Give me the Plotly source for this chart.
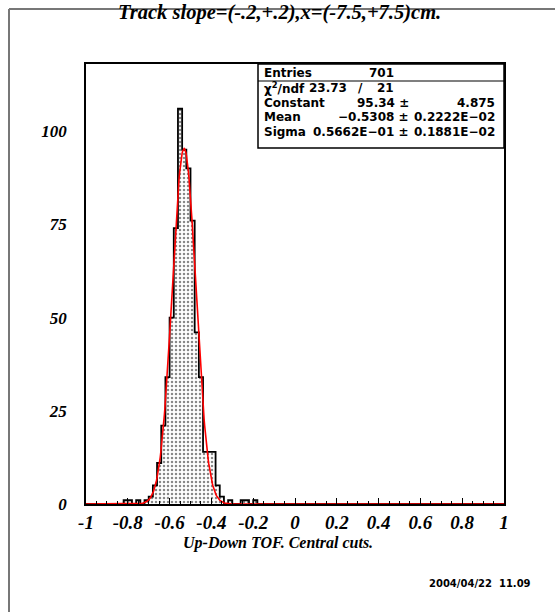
import numpy as np
import plotly.graph_objects as go

# ---------------- data ----------------
bin_lo = -1.0
bin_w = 0.02
n_bins = 100
# nonzero bin contents: bin index -> count
counts_nonzero = {
    9: 1, 10: 1, 12: 1, 14: 1, 15: 2, 16: 5, 17: 11, 18: 21, 19: 34, 20: 50,
    21: 74, 22: 106, 23: 95, 24: 90, 25: 76, 26: 46, 27: 34, 28: 14, 29: 14,
    30: 14, 31: 5, 32: 2, 34: 1, 37: 1, 38: 1, 40: 1,
}
fit_const = 95.34
fit_mean = -0.5308
fit_sigma = 0.05662

x_tick_vals = [-1, -0.8, -0.6, -0.4, -0.2, 0, 0.2, 0.4, 0.6, 0.8, 1]
x_tick_text = ["-1", "-0.8", "-0.6", "-0.4", "-0.2", "0", "0.2", "0.4", "0.6", "0.8", "1"]
y_tick_vals = [0, 25, 50, 75, 100]

stat_labels = ["Entries", "χ<sup>2</sup>/ndf", "Constant", "Mean", "Sigma"]
entries_text = "701"
chi2_text, ndf_text = "23.73", "21"
param_vals = ["95.34 ±", "−0.5308 ±", "0.5662E−01 ±"]
param_errs = ["4.875", "0.2222E−02", "0.1881E−02"]

title_text = "Track slope=(-.2,+.2),x=(-7.5,+7.5)cm."
xtitle_text = "Up-Down TOF. Central cuts."
date_text = "2004/04/22  11.09"

# ---------------- derived ----------------
edges = bin_lo + bin_w * np.arange(n_bins + 1)
centers = edges[:-1] + bin_w / 2
counts = np.zeros(n_bins)
for k, v in counts_nonzero.items():
    counts[k] = v

xf = np.linspace(-1, 1, 801)
yf = fit_const * np.exp(-0.5 * ((xf - fit_mean) / fit_sigma) ** 2)

# layout geometry (pixels)
W, H = 555, 612
L, R, T, B = 86, 504, 64, 504


def px(x):
    return (x - L) / (R - L)


def py(y):
    return (B - y) / (B - T)


serif = "Liberation Serif"
sans = "DejaVu Sans"

fig = go.Figure()
fig.add_trace(go.Bar(
    x=centers, y=counts, width=bin_w,
    marker=dict(color="white", line=dict(width=0),
                pattern=dict(shape=".", size=4, solidity=0.3, fgcolor="#111", bgcolor="white")),
    showlegend=False, hoverinfo="skip",
))
fig.add_trace(go.Scatter(
    x=edges, y=np.append(counts, counts[-1]), mode="lines", line_shape="hv",
    line=dict(color="black", width=1.8), showlegend=False, hoverinfo="skip",
))
fig.add_trace(go.Scatter(
    x=xf, y=yf, mode="lines", line=dict(color="#ff0000", width=1.6),
    showlegend=False, hoverinfo="skip",
))

BX0, BX1, BY0, BY1 = 258, 504, 64, 148
shapes = [
    # outer canvas frame (gray)
    dict(type="line", xref="paper", yref="paper", x0=px(9), x1=px(560), y0=py(9), y1=py(9),
         line=dict(color="#777", width=2)),
    dict(type="line", xref="paper", yref="paper", x0=px(9), x1=px(9), y0=py(9), y1=py(620),
         line=dict(color="#777", width=2)),
    # stats box
    dict(type="rect", xref="paper", yref="paper", x0=px(BX0), x1=px(BX1), y0=py(BY1), y1=py(BY0),
         line=dict(color="black", width=1.5), fillcolor="white", layer="above"),
    dict(type="line", xref="paper", yref="paper", x0=px(BX0), x1=px(BX1), y0=py(81), y1=py(81),
         line=dict(color="black", width=1.2), layer="above"),
]


def ann(text, x, y, xanchor, font):
    return dict(text=text, x=px(x), y=py(y), xref="paper", yref="paper", showarrow=False,
                xanchor=xanchor, yanchor="middle", font=font)


annotations = [
    ann(title_text, 279, 13, "center",
        dict(family=serif, size=20.5, color="black", weight="bold", style="italic")),
    ann(xtitle_text, 278, 543, "center",
        dict(family=serif, size=16, color="black", weight="bold", style="italic")),
    ann(date_text, 533, 583, "right", dict(family=sans, size=10, color="black", weight="bold")),
]

row_y = [73, 88, 103, 117, 132]
stat_font = dict(family=sans, size=12, color="black", weight="bold")
for lab, yy in zip(stat_labels, row_y):
    annotations.append(ann(lab, 262, yy, "left", stat_font))
annotations.append(ann(entries_text, 396, row_y[0], "right", stat_font))
annotations.append(ann(chi2_text, 307, row_y[1], "left", stat_font))
annotations.append(ann("/", 360, row_y[1], "center", stat_font))
annotations.append(ann(ndf_text, 396, row_y[1], "right", stat_font))
for v, e, yy in zip(param_vals, param_errs, row_y[2:]):
    annotations.append(ann(v, 411, yy, "right", stat_font))
    annotations.append(ann(e, 497, yy, "right", stat_font))

xtick_font = dict(family=serif, size=19, color="black", weight="bold", style="italic")
ytick_font = dict(family=serif, size=17, color="black", weight="bold", style="italic")
fig.update_layout(
    width=W, height=H,
    margin=dict(l=L, r=W - R, t=T, b=H - B, pad=0),
    paper_bgcolor="white", plot_bgcolor="white",
    bargap=0,
    shapes=shapes, annotations=annotations,
    xaxis=dict(range=[-1, 1], tickmode="array", tickvals=x_tick_vals, ticktext=x_tick_text,
               ticks="inside", ticklen=6, tickwidth=1, tickcolor="black",
               minor=dict(dtick=0.05, tick0=0, ticks="inside", ticklen=3, tickcolor="black", showgrid=False),
               showline=True, linecolor="black", linewidth=1.5, mirror=True,
               showgrid=False, zeroline=False, tickfont=xtick_font, ticklabelstandoff=0),
    yaxis=dict(range=[0, 118], tickmode="array", tickvals=y_tick_vals,
               ticks="", showline=True, linecolor="black", linewidth=1.5, mirror=True,
               showgrid=False, zeroline=False, tickfont=ytick_font, ticklabelstandoff=14),
)

fig.write_html("out.html")
